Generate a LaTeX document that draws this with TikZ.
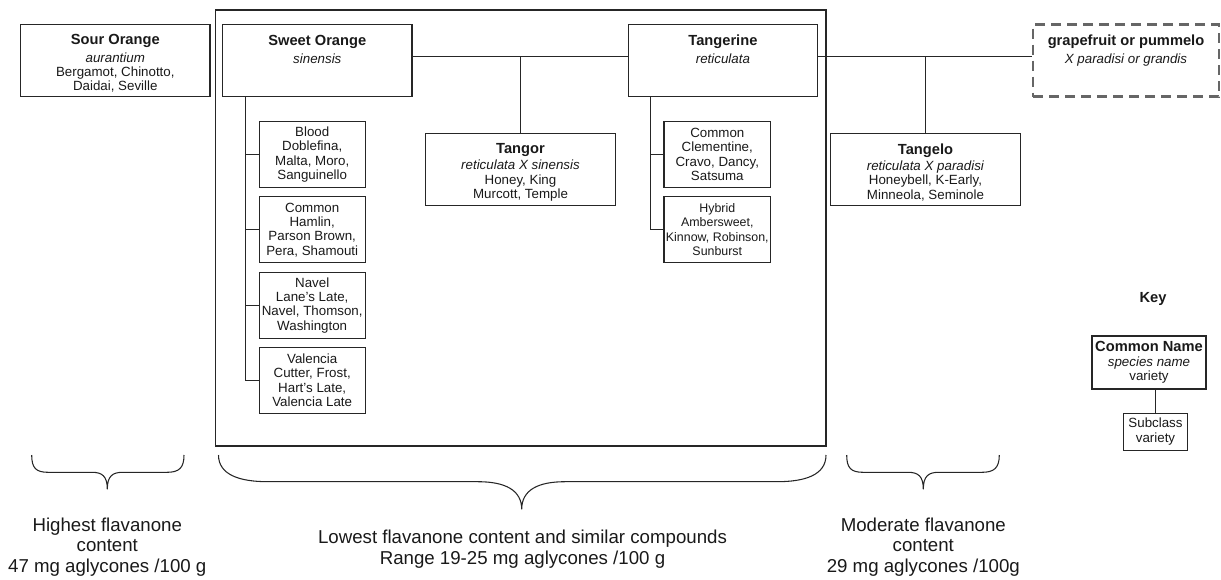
\documentclass[tikz,border=0pt]{standalone}
\usepackage{fontspec}
\setmainfont{Liberation Sans}
\usepackage{tikz}

\newcommand{\commonname}[1]{{\fontsize{11}{12}\selectfont\bfseries\rule{0pt}{12.5pt}#1}}
\newcommand{\species}[1]{\textit{#1}}

\begin{document}
\begin{tikzpicture}[x=0.75pt,y=-0.75pt,
  every node/.style={font=\fontsize{10}{10.75}\selectfont, text=black!90},
  line/.style={draw=black!85, line width=0.8pt},
  spbox/.style={line, align=center, minimum width=142pt, minimum height=54pt, inner sep=1pt},
  subbox/.style={line, align=center, minimum width=79.5pt, minimum height=49.5pt, inner sep=1pt},
  note/.style={align=center, font=\fontsize{14}{15.6}\selectfont}]
  \useasboundingbox (0,0) rectangle (1221,579);

  % species row
  \node[spbox] (sour) at (115.3,60.3) {\commonname{Sour Orange}\\[2.5pt]\species{aurantium}\\Bergamot, Chinotto,\\Daidai, Seville};
  \draw[line] (215.5,10) rectangle (826,446);
  \node[spbox] (sweet) at (317.3,60.3) {\commonname{Sweet Orange}\\[2.5pt]\species{sinensis}\\~\\~};
  \node[spbox] (tangerine) at (722.9,60.3) {\commonname{Tangerine}\\[2.5pt]\species{reticulata}\\~\\~};
  \node[spbox, draw=black!60, line width=2pt, dash pattern=on 7.5pt off 4.5pt, minimum width=139.5pt]
    (grape) at (1126,60.5) {\commonname{grapefruit or pummelo}\\[2.5pt]\species{X paradisi or grandis}\\~\\~};

  % hybrids
  \node[spbox, minimum height=53.75pt] (tangor) at (520.5,169.2) {\commonname{Tangor}\\[1.5pt]\species{reticulata X sinensis}\\Honey, King\\Murcott, Temple};
  \node[spbox, minimum height=53.75pt] (tangelo) at (925.5,169.2) {\commonname{Tangelo}\\[1.5pt]\species{reticulata X paradisi}\\Honeybell, K-Early,\\Minneola, Seminole};

  \coordinate (mainline) at ([yshift=2.7pt]sweet.east);
  \draw[line] (mainline) -- (mainline -| tangerine.west);
  \draw[line] (mainline -| tangerine.east) -- (mainline -| grape.west);
  \draw[line] (tangor.north) -- (tangor.north |- mainline);
  \draw[line] (tangelo.north) -- (tangelo.north |- mainline);

  % sweet orange subclasses
  \foreach \n/\y/\t in {blood/154.7/{Blood\\Doblefina,\\Malta, Moro,\\Sanguinello},
      common/229.9/{Common\\Hamlin,\\Parson Brown,\\Pera, Shamouti},
      navel/305.1/{Navel\\Lane's Late,\\Navel, Thomson,\\Washington},
      valencia/380.3/{Valencia\\Cutter, Frost,\\Hart's Late,\\Valencia Late}}
    \node[subbox] (\n) at (312.2,\y) {\t};
  \coordinate (strunk) at ([xshift=17.5pt]sweet.south west);
  \draw[line] (strunk) |- (valencia.west);
  \foreach \n in {blood,common,navel}
    \draw[line] (\n.west) -- (\n.west -| strunk);

  % tangerine subclasses
  \node[subbox, minimum width=80pt] (clementine) at (717.3,154.3) {Common\\Clementine,\\Cravo, Dancy,\\Satsuma};
  \node[subbox, minimum width=80pt, font=\fontsize{9.3}{10.75}\selectfont] (hybrid) at (717.3,229.7) {Hybrid\\Ambersweet,\\Kinnow, Robinson,\\Sunburst};
  \coordinate (ttrunk) at ([xshift=17pt]tangerine.south west);
  \draw[line] (ttrunk) |- (hybrid.west);
  \draw[line] (clementine.west) -- (clementine.west -| ttrunk);

  % key
  \node[font=\fontsize{11}{12}\selectfont\bfseries] (key) at (1153,299) {Key};
  \node[spbox, minimum width=85.5pt, minimum height=39.75pt] (keybox) at (1149,362.5) {{\fontsize{11}{12}\selectfont\bfseries Common Name}\\\species{species name}\\variety};
  \node[subbox, minimum width=48.3pt, minimum height=27.5pt] (keysub) at (1155.5,431.7) {Subclass\\variety};
  \draw[line] (keysub.north) -- (keysub.north |- keybox.south);

  % braces
  \draw[line] (31.7,455) .. controls (31.7,468) and (36,472.3) .. (48,472.3) -- (92,472.3)
    .. controls (102,472.3) and (107.3,476) .. (107.3,489.3)
    .. controls (107.3,476) and (112.6,472.3) .. (122.6,472.3) -- (167,472.3)
    .. controls (179,472.3) and (184,468) .. (184,455);
  \draw[line] (218.5,455) .. controls (218.5,475) and (240,481.7) .. (268,481.7) -- (478,481.7)
    .. controls (505,481.7) and (521.7,490) .. (521.7,509.3)
    .. controls (521.7,490) and (538,481.7) .. (565,481.7) -- (777,481.7)
    .. controls (805,481.7) and (826,475) .. (826,455);
  \draw[line] (846.7,455) .. controls (846.7,468) and (851,472.3) .. (863,472.3) -- (908,472.3)
    .. controls (918,472.3) and (923.3,476) .. (923.3,489.3)
    .. controls (923.3,476) and (928.6,472.3) .. (938.6,472.3) -- (982,472.3)
    .. controls (994,472.3) and (999.3,468) .. (999.3,455);

  \node[note] (high) at (107.3,547) {Highest flavanone\\content\\47 mg aglycones /100 g};
  \node[note] (low) at (522.5,549) {Lowest flavanone content and similar compounds\\Range 19-25 mg aglycones /100 g};
  \node[note] (moderate) at (923.3,547) {Moderate flavanone\\content\\29 mg aglycones /100g};
\end{tikzpicture}
\end{document}
